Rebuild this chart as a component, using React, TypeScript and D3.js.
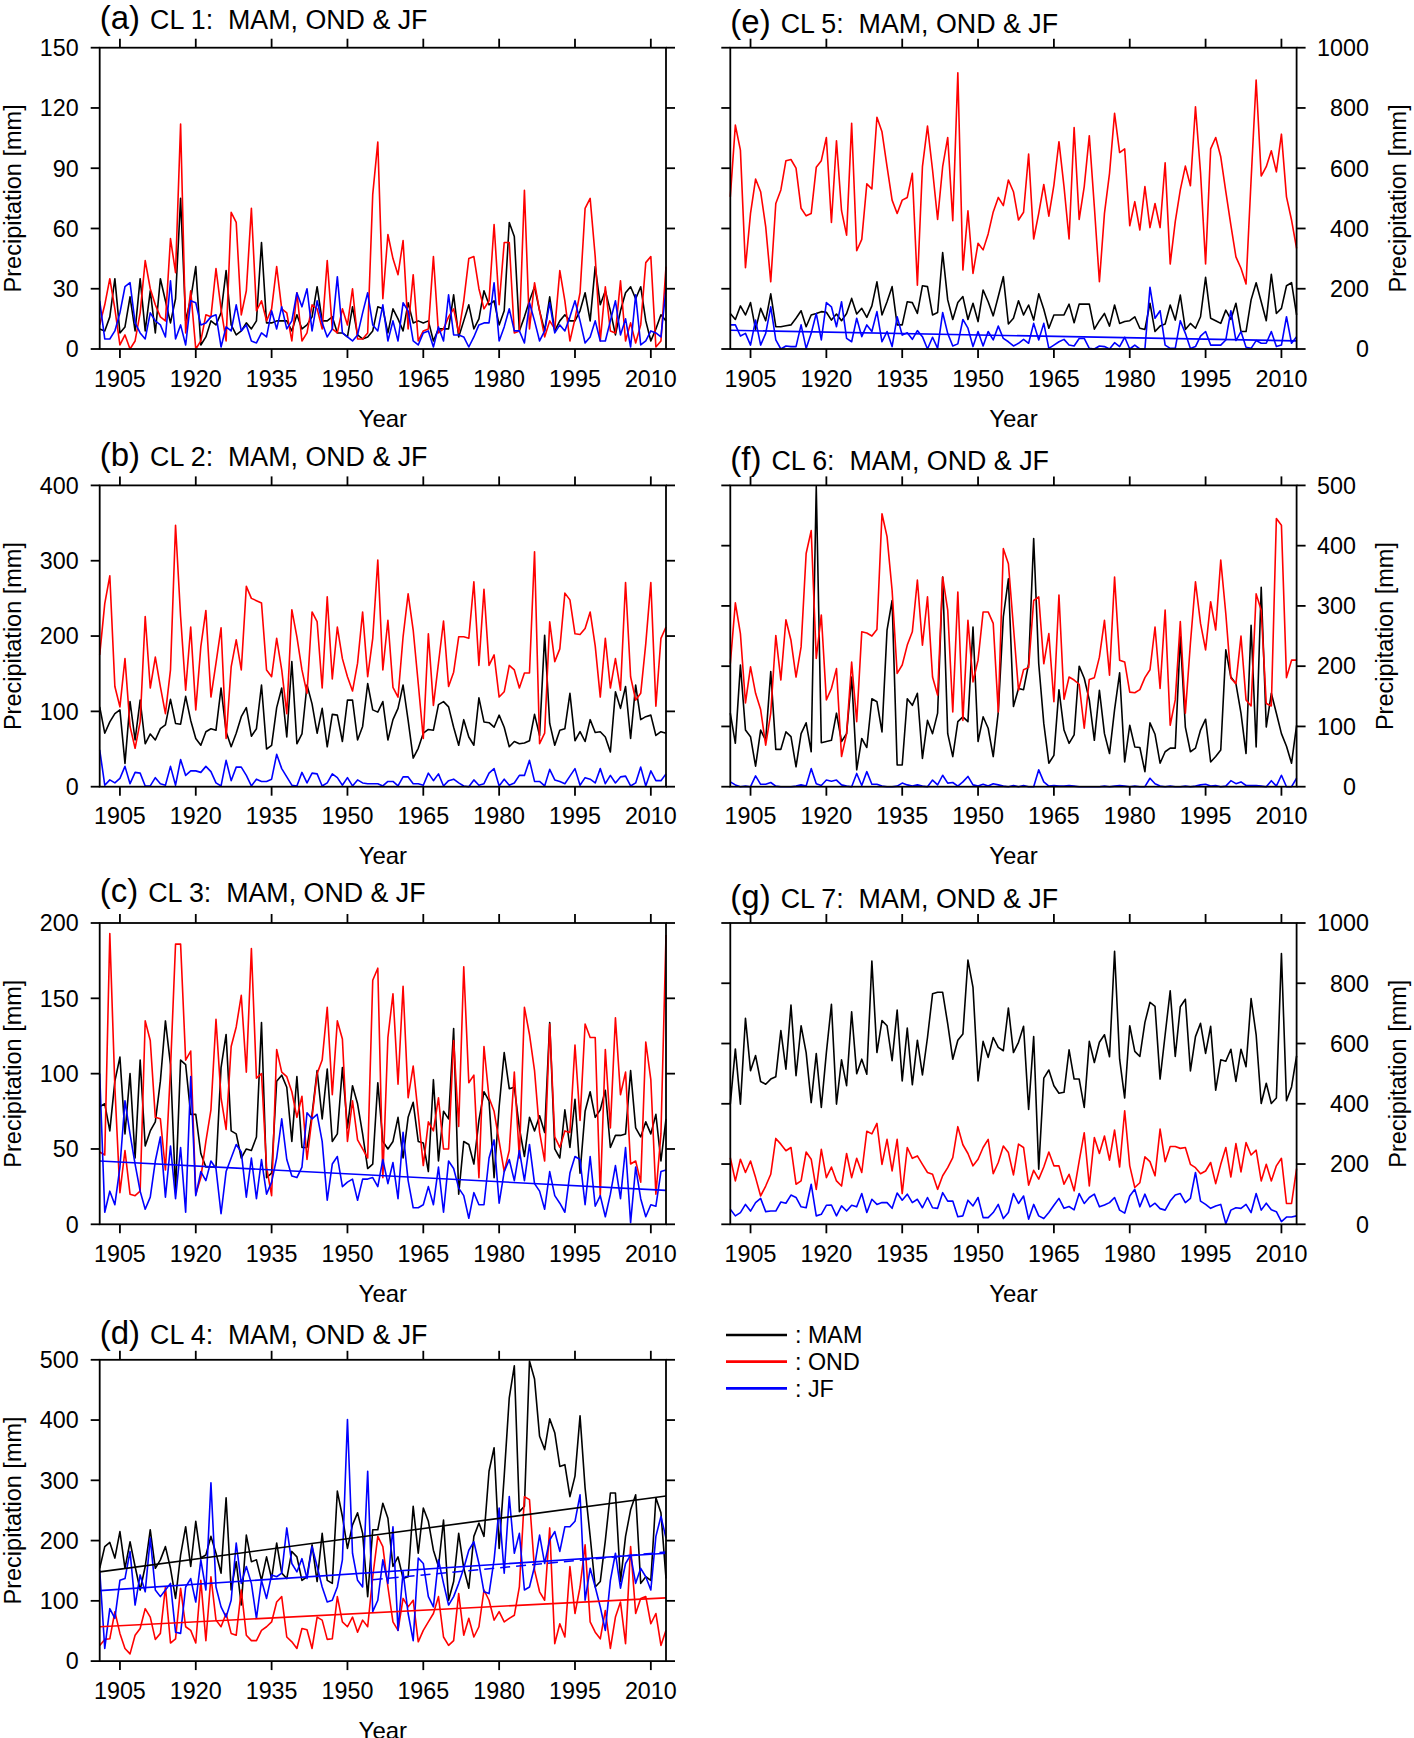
import React from 'react';
import * as d3 from 'd3';

const YEARS: number[] = d3.range(1901, 2014);
const X_TICKS: number[] = d3.range(1905, 2011, 15);

// CL 1
const CL1_MAM = [10,9,16,35,8,11,26,9,35,9, 29,8,35,24,13,25,75,14,25,41, 2,6,14,12,18,39,12,7,9,13, 10,14,53,13,13,14,14,14,9,17, 10,12,16,31,14,14,16,8,8,6, 21,7,5,6,9,21,20,8,20,15, 9,23,13,14,13,14,4,10,10,10, 27,6,14,22,10,15,29,22,24,12, 19,63,56,9,16,24,31,19,9,26, 9,14,17,14,14,19,28,14,41,22, 29,19,7,19,28,31,25,31,14,4, 10,17,14];
const CL1_OND = [12,22,35,20,2,7,0,4,18,44, 30,22,16,14,55,38,112,8,29,0, 4,17,16,40,20,4,68,63,17,29, 70,19,24,14,20,41,20,18,4,28, 4,8,22,20,10, 44,10,8,20,12, 30,5,5,8,77, 103,25,57,45,37, 54,10,37,4,9, 10,46,8,10,16, 20,8,24,45,46, 30,20,24,62,22, 53,53,8,9,79, 10,33,19,6,14,10,39,24,4,15,28,70,75,46,4,31,9,8,34,4,13,3,12,43,46,1,4,41];
const CL1_JF = [24,5,5,9,18,31,33,13,8,5, 18,14,12,6,34,5,12,2,24,23, 12,13,16,17,1,11,9,22,9,12, 4,3,8,6,19,10,21,10,14,28, 21,30,9,24,13,6,10,36,8,6, 4,7,18,28,12,9,22,4,14,4, 23,19,4,2,8,9,1,11,4,27, 7,7,6,1,6,12,13,13,33,4, 11,20,9,9,3,23,14,4,9,23, 8,12,9,16,24,14,3,6,14,4, 4,14,24,7,15,1,27,2,4,9, 8,6,30];

// CL 2
const CL2_MAM = [106,71,86,97,102,31,113,62,115,57, 70,62,77,82,116,84,83,120,88,64, 55,73,77,75,131,73,53,71,93,105, 67,77,135,50,55,105,131,66,166,57, 70,135,110,71,104,53,96,95,60,115, 115,62,80,137,102,99,113,62,89,104, 135,88,38,51,71,76,75,109,113,106, 79,55,89,66,55,118,86,85,79,95, 79,53,60,57,58,61,96,68,201,84, 55,75,77,124,61,73,60,89,72,73, 66,46,126,104,133,64,135,89,93,95, 68,73,71];
const CL2_OND = [175,243,280,133,106,170,80,51,86,226, 131,172,133,97,155,347,226,128,212,102, 186,234,119,164,211,64,159,195,155,266, 250,247,244,155,146,197,155,97,235,199, 155,124,232,219,131,252,143,212,170,146, 127,164,232,146,197,301,155,221,132,119, 199,256,208,137,64,203,108,164,220,133, 152,199,199,197,272,161,262,161,175,119, 126,161,155,131,151,151,312,57,71,219, 166,183,257,248,203,202,210,232,187,119, 197,131,170,128,271,146,115,124,190,271, 107,197,212];
const CL2_JF = [49,2,9,5,11,27,4,19,18,1, 1,12,4,2,27,2,36,15,21,21, 19,27,20,5,1,35,8,26,26,15, 1,10,7,7,10,43,24,13,2,1, 19,5,18,17,1,5,17,12,2,12, 1,9,5,4,4,4,1,7,7,1, 13,13,4,4,2,18,8,17,1,8, 10,5,1,0,9,2,4,18,24,1, 10,2,5,15,15,35,7,7,1,23, 9,7,4,14,24,2,12,10,5,24, 4,15,5,13,14,1,5,26,1,21, 8,8,17];

// CL 3
const CL3_MAM = [78,80,62,95,111,60,100,44,109,52, 62,68,95,135,106,22,109,106,73,73, 47,38,38,38,104,126,62,60,44,50, 49,58,134,31,34,95,99,91,55,98, 51,51,73,102,70,103,55,60,104,64, 92,80,60,37,40,94, 55,50,55,71,44,71,81,55,54,35, 96,42,75,70,130,20,55,53,40,69, 88,82,31,78,114,90,91,64,45,71, 62,72,61,134,50,44,76,51,83,34, 75,88,71,76,89,51,59,59,60,102, 64,58,68,60,73,42,70];
const CL3_OND = [48,46,193,91,21,49,20,19,22,135, 122,71,70,36,103,186,186,109,115,20, 31,55,76,136,84,63,118,131,152,101, 183,97,100,38,19,116,101,98,88,71, 85,43,71,100,109,144,86,135,123,55, 82,56,50,44,162,170, 31,124,153,93,158,84,105,73,39,68, 62,84,50,50,122,65,171,94,99,31, 118,84,75,55,35,49,101,44,144,126, 102,61,42,133,58,51,62,61,119,69, 133,124,124,19,116,64,137,86,101,40, 42,28,121,96,20,60,192];
const CL3_JF = [100,8,22,13,38,82,60,40,22,10, 18,42,58,18,52,17,51,8,98,19, 35,29,42,37,7,35,44,53,48,18, 44,17,43,20,28,44,70,43,32,31, 38,74,70,73,55,16,40,45,25,28, 30,16,30,30,31,25, 43,27,41,17,61,29,11,11,13,25, 13,38,8,42,37,24,19,4,21,13, 13,44,56,14,35,43,29,49,29,53, 27,22,10,35,19,14,8,34,45,43, 13,45,12,19,5,20,39,17,51,1, 38,17,5,13,12,35,36];
const CL3_JF_TREND: [number, number][] = [[1901, 42], [2013, 22.5]];

// CL 4
const CL4_MAM = [154,190,197,171,215,154,198,157,118,157, 218,154,168,190,154,104,176,223,157,232, 171,176,207,179,146,271,118,165,93,209, 165,168,134,173,137,196,146,137,182,173, 134,140,193, 132,212,134,129,282,240,187,226,246,212,107,218,218, 262,237,157,173,137,140,257,179,254,232, 184,157,234,101,132,212,154,121,207,229, 207,315,354,187,307,437,490,248,257,498, 468,373,351,402,379,323,326,273,307,407, 287,207,123,132,200,279,279,132,207,251, 276,129,140,134,271,246,137];
const CL4_OND = [26,36,37,82,46,21,12,43,54,87, 73,36,46,123,30,37,121,57,51,30, 134,34,140,68,57,79,46,43,118,43, 34,34,51,57,65,98,107,40,32,21, 54,52,21,73,68,36,37,107,65,57, 73,48,68,57,140,207, 190,123,65,51,104,90,101,32,51,65, 79,107,40,26,34,112,43,71,40,57, 118,101,68,82,65,71,76,123,273,268, 151,115,101,221,29,62,40,157,79,123, 193,65,48,37,84,21,73,98,29,190, 79,104,107,62,79,26,51];
const CL4_JF = [151,21,87,71,134,137,182,93,143,115, 204,118,107,118,129,48,46,123,137,98, 168,118,296,123,90,73,101,196,129,157, 129,71,134,104,143,140,146,221,162,148, 170,137,190,157,123,98,101,123,168,401, 179,134,123,315,82,101, 168,129,223,51,148,79,34,171,162,107, 90,168,129,93,107,129,154,184,198,162, 115,112,168,254,146,273,179,212,118,123, 157,209,162,201,215,182,223,223,232,276, 101,154,123,90,51,134,179,121,162,176, 129,154,140,118,207,240,204];
const CL4_MAM_TREND: [number, number][] = [[1901, 148], [2013, 274]];
const CL4_OND_TREND: [number, number][] = [[1901, 57], [2013, 105]];
const CL4_JF_TREND: [number, number][] = [[1901, 117], [2013, 179]];
const CL4_JF_TREND2: [number, number][] = [[1955, 135], [2013, 181]];

// CL 5
const CL5_MAM = [118,98,143,113,154,65,135,94,183,74, 74,77,80,102,127,74,113,118,124,122, 96,116,94,118,168,116,135,105,143,223, 113,157,207,80,80,157,154,118,210,207, 113,121,320,163,98,154,174,98,152,91, 196,157,110,174,240,83,102,160,113,146, 96,183,132,69,113,113,113,149,87,149, 149,149,66,94,118,76,146,85,91,94, 107,69,65,152,58,76,83,146,96,179, 65,85,69,107,238,102,94,85,129,98, 152,58,58,163,220,157,94,248,118,135, 210,220,113];
const CL5_OND = [505,743,660,270,450,564,522,406,223,483, 528,625,629,600,467,442,450,603,625,702, 420,691,459,378,749,326,364,548,531,769, 721,605,494,450,494,503,583,212,605,740, 594,430,605,702,426,917,262,459,251,351, 329,382,455,503,476,561,522,428,454,647, 365,450,546,441,544,688,539,365,735,430, 539,708,472,223,450,583,782,652,664,409, 489,395,539,403,483,403,618,282,423,528, 607,542,804,586,282,664,702,638,522,411, 306,268,216,561,893,574,605,658,588,713, 505,428,334];
const CL5_JF = [80,80,43,52,13,96,13,52,140,30, 0,10,8,8,80,2,52,118,30,154, 140,74,157,35,24,102,41,80,58,124, 24,58,8,107,46,54,32,61,41,0, 39,2,121,52,10,17,98,69,8,58, 10,58,30,76,35,24,10,19,32,19, 85,30,85,2,13,24,32,13,10,35, 35,2,0,10,8,0,21,8,39,0, 13,0,0,205,102,127,13,2,2,94, 52,2,8,43,58,13,13,13,30,127, 28,58,6,2,28,19,19,58,8,13, 107,19,41];
const CL5_JF_TREND: [number, number][] = [[1901, 62], [2013, 27]];

// CL 6
const CL6_MAM = [122,72,202,94,83,34,94,77,191,62, 62,91,83,33,88,106,58,498,73,75, 77,122,75,88,182,28,80,65,146,141, 91,260,309,36,36,146,135,155,47,110, 88,122,348,88,50,108,116,108,265,75, 116,97,50,124,282,345,133,163,161,204, 412,204,105,39,52,161,94,72,86,200, 180,144,77,160,88,55,128,189,41,102, 66,65,25,106,87,39,58,64,64,249, 99,58,64,94,112,41,50,61,227,182, 171,122,55,268,66,331,99,155,122,88, 67,39,102];
const CL6_OND = [204,305,254,139,199,155,128,69,122,251, 177,277,243,182,232,387,425,213,285,144, 163,196,50,88,207,108,257,255,250,261, 453,415,326,188,202,235,257,343,235,315, 182,152,348,293,124,323,110,276,174,210, 290,290,271,124,395,370,265,160,194,198, 309,315,204,254,141,318,145,182,177,170, 97,178,181,215,276,185,348,210,207,157, 156,161,181,194,265,163,293,102,144,274, 122,238,340,271,227,307,260,376,287,180, 171,250,144,134,320,293,138,134,445,434, 181,210,210];
const CL6_JF = [8,3,0,1,0,18,4,4,7,1, 0,0,0,1,3,1,30,5,2,11, 9,11,3,1,0,22,2,25,4,4, 1,0,0,1,6,3,1,3,1,0, 11,3,19,6,7,1,8,17,3,1, 4,1,5,3,1,0,2,0,2,0, 0,28,8,1,2,1,1,2,1,0, 0,0,0,0,1,0,1,2,1,0, 1,0,0,14,5,1,0,1,0,0, 1,0,1,3,4,1,2,0,1,10, 5,8,2,2,2,1,0,10,1,19, 0,0,14];

// CL 7
const CL7_MAM = [399,582,399,684,510,560,474,465,482,490, 643,515,728,493,659,570,404,567,388,570, 730,399,546,460,705,500,548,498,874,570, 676,659,543,711,476,651,463,611,496,620, 765,770,770,665,548,611,632,877,786,476, 607,554,620,587,576,718,570,604,657,381, 623,183,485,512,460,435,438,579,482,482, 388,607,537,604,629,556,906,548,419,659, 574,557,670,737,723,482,629,775,557,722, 747,509,623,667,567,657,445,546,541,581, 474,581,523,749,629,401,468,401,419,899, 410,456,559];
const CL7_OND = [221,144,216,172,210,155,94,127,166,285, 266,244,255,133,144,240,216,116,249,155, 190,144,127,235,155,219,172,309,300,335, 199,282,177,282,102,255,219,227,199,172, 166,116,161,188,221,324,264,235,194,216, 255,282,168,205,260,238,164,266,255,130, 179,150,190,240,194,194,133,166,111,210, 304,127,288,235,293,213,313,190,377,194, 122,138,224,208,161,316,208,258,258,252, 255,199,188,168,177,205,135,199,255,157, 268,174,271,230,246,144,199,144,194,219, 69,69,185];
const CL7_JF = [50,28,39,66,44,72,86,42,44,44, 74,70,97,89,58,55,133,28,33,63, 64,28,61,44,63,58,102,39,83,66, 72,72,53,104,80,100,72,83,55,89, 55,53,105,77,77,25,28,80,61,89, 22,22,39,66,19,39,102,69,94,17, 66,28,19,39,63,86,53,59,48,102, 69,89,100,58,64,72,89,47,37,94, 116,58,100,58,70,52,47,77,97,102, 72,86,172,77,66,53,61,66,2,47, 55,53,66,39,102,47,70,48,42,9, 24,24,28];

const LEGEND_LABELS = ['MAM', 'OND', 'JF'];
const SERIES_COLORS = ['#000000', '#ff0000', '#0000ff'];

const FONT = "'Liberation Sans', Arial, Helvetica, sans-serif";
const COL_X = [99.7, 730.3];
const ROW_Y = [47.7, 485.4, 923, 1359.8];
const PLOT_W = 566.3;
const PLOT_H = 301.3;
const TICK_FS = 23.3;
const TICK_LEN = 9;

type Trend = { pts: [number, number][]; color: string; dashed?: boolean };
type PanelCfg = {
  letter: string; cl: number; col: number; row: number; yMax: number; yStep: number;
  series: number[][]; trends: Trend[]; titleRise: number;
};

const PANELS: PanelCfg[] = [
  { letter: 'a', cl: 1, col: 0, row: 0, yMax: 150, yStep: 30, series: [CL1_MAM, CL1_OND, CL1_JF], trends: [], titleRise: 19 },
  { letter: 'b', cl: 2, col: 0, row: 1, yMax: 400, yStep: 100, series: [CL2_MAM, CL2_OND, CL2_JF], trends: [], titleRise: 19 },
  { letter: 'c', cl: 3, col: 0, row: 2, yMax: 200, yStep: 50, series: [CL3_MAM, CL3_OND, CL3_JF], trends: [{ pts: CL3_JF_TREND, color: '#0000ff' }], titleRise: 21 },
  { letter: 'd', cl: 4, col: 0, row: 3, yMax: 500, yStep: 100, series: [CL4_MAM, CL4_OND, CL4_JF], trends: [
    { pts: CL4_MAM_TREND, color: '#000000' }, { pts: CL4_OND_TREND, color: '#ff0000' },
    { pts: CL4_JF_TREND, color: '#0000ff' }, { pts: CL4_JF_TREND2, color: '#0000ff', dashed: true }], titleRise: 16 },
  { letter: 'e', cl: 5, col: 1, row: 0, yMax: 1000, yStep: 200, series: [CL5_MAM, CL5_OND, CL5_JF], trends: [{ pts: CL5_JF_TREND, color: '#0000ff' }], titleRise: 14.5 },
  { letter: 'f', cl: 6, col: 1, row: 1, yMax: 500, yStep: 100, series: [CL6_MAM, CL6_OND, CL6_JF], trends: [], titleRise: 15 },
  { letter: 'g', cl: 7, col: 1, row: 2, yMax: 1000, yStep: 200, series: [CL7_MAM, CL7_OND, CL7_JF], trends: [], titleRise: 15 },
];

function Panel({ p }: { p: PanelCfg }) {
  const x0 = COL_X[p.col];
  const x1 = x0 + PLOT_W;
  const y0 = ROW_Y[p.row];
  const yB = y0 + PLOT_H;
  const x = d3.scaleLinear().domain([1901, 2013]).range([x0, x1]);
  const y = d3.scaleLinear().domain([0, p.yMax]).range([yB, y0]);
  const line = d3.line<number>().x((_, i) => x(YEARS[i])).y((d) => y(Math.min(d, p.yMax)));
  const tline = d3.line<[number, number]>().x((d) => x(d[0])).y((d) => y(d[1]));
  const yTicks = d3.range(0, p.yMax + 1e-9, p.yStep);
  const labW = String(p.yMax).length * 0.556 * TICK_FS;
  const leftLabEnd = x0 - 21;
  const rightLabStart = x1 + 20.5;
  const rightLabEnd = rightLabStart + labW;
  const yLabX = p.col === 0 ? leftLabEnd - labW - 19 : rightLabEnd + 37.5;
  const cy = (y0 + yB) / 2;
  const sw = 1.8;
  return (
    <g>
      {p.series.map((s, k) => (
        <path key={k} d={line(s) || ''} fill="none" stroke={SERIES_COLORS[k]} strokeWidth={1.6} strokeLinejoin="round" />
      ))}
      {p.trends.map((t, k) => (
        <path key={'t' + k} d={tline(t.pts) || ''} fill="none" stroke={t.color} strokeWidth={1.6}
          strokeDasharray={t.dashed ? '10,6' : undefined} />
      ))}
      <rect x={x0} y={y0} width={PLOT_W} height={PLOT_H} fill="none" stroke="#000" strokeWidth={sw} />
      {X_TICKS.map((t) => (
        <g key={'x' + t}>
          <line x1={x(t)} x2={x(t)} y1={yB} y2={yB + TICK_LEN} stroke="#000" strokeWidth={sw} />
          <line x1={x(t)} x2={x(t)} y1={y0} y2={y0 - TICK_LEN} stroke="#000" strokeWidth={sw} />
          <text x={x(t)} y={yB + 37.7} textAnchor="middle" fontSize={TICK_FS}>{t}</text>
        </g>
      ))}
      {yTicks.map((t) => (
        <g key={'y' + t}>
          <line x1={x0} x2={x0 - TICK_LEN} y1={y(t)} y2={y(t)} stroke="#000" strokeWidth={sw} />
          <line x1={x1} x2={x1 + TICK_LEN} y1={y(t)} y2={y(t)} stroke="#000" strokeWidth={sw} />
          <text x={p.col === 0 ? leftLabEnd : rightLabEnd} y={y(t) + 8.3} textAnchor="end" fontSize={TICK_FS}>{t}</text>
        </g>
      ))}
      <text x={(x0 + x1) / 2} y={yB + 77.7} textAnchor="middle" fontSize={24}>Year</text>
      <text transform={`translate(${yLabX},${cy}) rotate(-90)`} textAnchor="middle" fontSize={23.5}>Precipitation [mm]</text>
      <text x={x0} y={y0 - p.titleRise} style={{ whiteSpace: 'pre' }}>
        <tspan fontSize={33}>({p.letter})</tspan>
        <tspan fontSize={26.8} dx={10}>{`CL ${p.cl}:  MAM, OND & JF`}</tspan>
      </text>
    </g>
  );
}

function Legend() {
  const lx0 = 726, lx1 = 787;
  const ys = [1335, 1361.7, 1388.3];
  return (
    <g>
      {LEGEND_LABELS.map((lab, k) => (
        <g key={lab}>
          <line x1={lx0} x2={lx1} y1={ys[k]} y2={ys[k]} stroke={SERIES_COLORS[k]} strokeWidth={2.7} />
          <text x={795} y={ys[k] + 8.3} fontSize={23.3} style={{ whiteSpace: 'pre' }}>{`: ${lab}`}</text>
        </g>
      ))}
    </g>
  );
}

export default function App() {
  return (
    <svg width={1414} height={1738} viewBox="0 0 1414 1738"
      style={{ position: 'absolute', left: 0, top: 0, background: '#fff' }}
      fontFamily={FONT} fill="#000">
      <rect x={0} y={0} width={1414} height={1738} fill="#fff" />
      {PANELS.map((p) => <Panel key={p.letter} p={p} />)}
      <Legend />
    </svg>
  );
}
